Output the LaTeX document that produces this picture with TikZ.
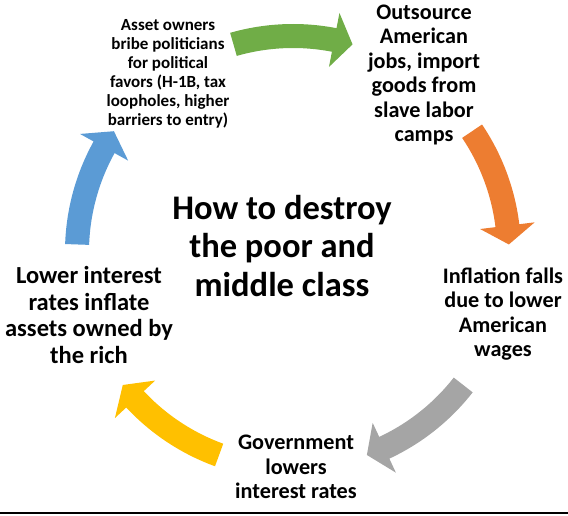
\documentclass[tikz,border=0pt]{standalone}
\usepackage{fontspec}
\setmainfont{Carlito}
\usepackage{tikz}
\usetikzlibrary{calc}
\definecolor{cyclegreen}{RGB}{112, 173, 71}
\definecolor{cycleorange}{RGB}{237, 125, 49}
\definecolor{cyclegray}{RGB}{165, 165, 165}
\definecolor{cycleyellow}{RGB}{255, 192, 0}
\definecolor{cycleblue}{RGB}{91, 155, 213}

\begin{document}
\begin{tikzpicture}[
  x=1pt, y=1pt,
  stage/.style={align=center, inner sep=0pt, font=\fontsize{22.2}{24.5}\selectfont\bfseries},
  smallstage/.style={stage, font=\fontsize{17}{19}\selectfont\bfseries},
  widestage/.style={stage, font=\fontsize{24.5}{26.8}\selectfont\bfseries},
  headline/.style={align=center, inner sep=0pt, font=\fontsize{34.5}{38.5}\selectfont\bfseries}
]

  \useasboundingbox (0,0) rectangle (568,515);
  \coordinate (hub) at (293,263);

  \foreach \mid/\col in {90/cyclegreen, 18/cycleorange, -54/cyclegray, -126/cycleyellow, 162/cycleblue}{
    \fill[\col, shift={(hub)}]
      (\mid+16:228pt) arc[start angle=\mid+16, end angle=\mid-11, radius=228pt]
      -- (\mid-11:243.5pt) -- (\mid-16:216pt) -- (\mid-11:188.5pt) -- (\mid-11:204pt)
      arc[start angle=\mid-11, end angle=\mid+16, radius=204pt] -- cycle;
  }

  \node[headline] (title) at (282,269) {How to destroy\\the poor and\\middle class};

  \node[smallstage] (bribe) at (168,441) {Asset owners\\bribe politicians\\for political\\favors (H-1B, tax\\loopholes, higher\\barriers to entry)};
  \node[stage] (outsource) at (424,440) {Outsource\\American\\jobs, import\\goods from\\slave labor\\camps};
  \node[stage] (inflation) at (503,201) {Inflation falls\\due to lower\\American\\wages};
  \node[stage] (government) at (296,48) {Government\\lowers\\interest rates};
  \node[widestage] (lowrates) at (89,200) {Lower interest\\rates inflate\\assets owned by\\the rich};

  \fill[black] (0,1.5) rectangle (568,3.5);

\end{tikzpicture}
\end{document}
